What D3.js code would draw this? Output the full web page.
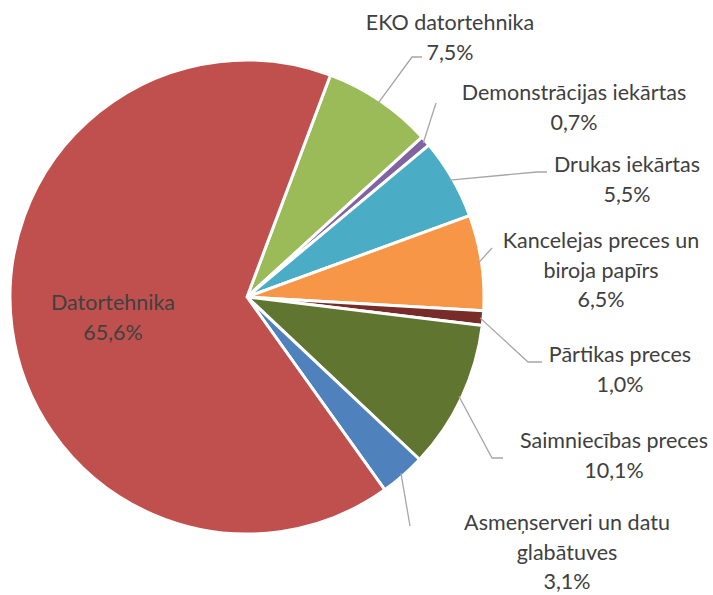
<!DOCTYPE html>
<html>
<head>
<meta charset="utf-8">
<script src="https://cdn.jsdelivr.net/npm/d3@7"></script>
<style>
  body { margin: 0; background: #fff; }
  text { font-family: Lato, "Open Sans", sans-serif; fill: #404040; }
</style>
</head>
<body>
<div id="chart"></div>
<script>
(function () {

  // data
  const categories = ['EKO datortehnika', 'Demonstrācijas iekārtas', 'Drukas iekārtas',
    'Kancelejas preces un\nbiroja papīrs', 'Pārtikas preces', 'Saimniecības preces',
    'Asmeņserveri un datu\nglabātuves', 'Datortehnika']
  const values = [7.5, 0.7, 5.5, 6.5, 1.0, 10.1, 3.1, 65.6]
  const colors = ['#9BBB59', '#8064A2', '#4BACC6', '#F79646', '#772C2A', '#5F7530', '#4F81BD', '#C0504D']

  const width = 713
  const height = 595
  const cx = 247, cy = 297, radius = 237

  // where each label sits (centre x, first baseline y) and the leader bend
  const labelPos = [
    { x: 450, y: 30, bend: [412, 57], end: [422, 57] },
    { x: 574, y: 100, bend: [436, 103], end: null },
    { x: 627, y: 172, bend: [537, 172], end: [547, 172] },
    { x: 601, y: 248, bend: [492, 248], end: null },
    { x: 620, y: 362, bend: [528, 362], end: [542, 362] },
    { x: 614, y: 448, bend: [492, 458], end: [503, 458] },
    { x: 567, y: 530, bend: [410, 526], end: null },
    { x: 113, y: 310, inside: true }
  ]

  const data = categories.map((c, i) => ({ name: c, value: values[i], color: colors[i], pos: labelPos[i] }))

  const svg = d3.select('#chart').append('svg')
    .attr('width', width)
    .attr('height', height)

  const g = svg.append('g')
    .attr('transform', 'translate(' + cx + ',' + cy + ')')

  const startAngle = 20.6 * Math.PI / 180
  const pie = d3.pie()
    .value(d => d.value)
    .sort(null)
    .startAngle(startAngle)
    .endAngle(startAngle + 2 * Math.PI)

  const arc = d3.arc().innerRadius(0).outerRadius(radius)
  const arcs = pie(data)

  g.selectAll('path')
    .data(arcs)
    .join('path')
    .attr('d', arc)
    .attr('fill', d => d.data.color)
    .attr('stroke', '#fff')
    .attr('stroke-width', 3)
    .attr('stroke-linejoin', 'round')

  // leader lines from the slice edge to the label
  const fmt = v => v.toFixed(1).replace('.', ',') + '%'
  const outside = arcs.filter(d => !d.data.pos.inside)

  svg.selectAll('.leader')
    .data(outside)
    .join('polyline')
    .attr('class', 'leader')
    .attr('fill', 'none')
    .attr('stroke', '#a6a6a6')
    .attr('stroke-width', 1.3)
    .attr('points', d => {
      const a = (d.startAngle + d.endAngle) / 2
      const r = radius - 3
      const pts = [[cx + r * Math.sin(a), cy - r * Math.cos(a)], d.data.pos.bend]
      if (d.data.pos.end) pts.push(d.data.pos.end)
      return pts.map(p => p.join(',')).join(' ')
    })

  // labels
  const labels = svg.selectAll('.label')
    .data(arcs)
    .join('text')
    .attr('class', 'label')
    .attr('text-anchor', 'middle')
    .attr('font-size', 21.5)

  labels.each(function (d) {
    const lines = d.data.name.split('\n').concat([fmt(d.data.value)])
    d3.select(this).selectAll('tspan')
      .data(lines)
      .join('tspan')
      .attr('x', d.data.pos.x)
      .attr('y', (l, i) => d.data.pos.y + i * 29.5)
      .text(l => l)
  })

})();
</script>
</body>
</html>
